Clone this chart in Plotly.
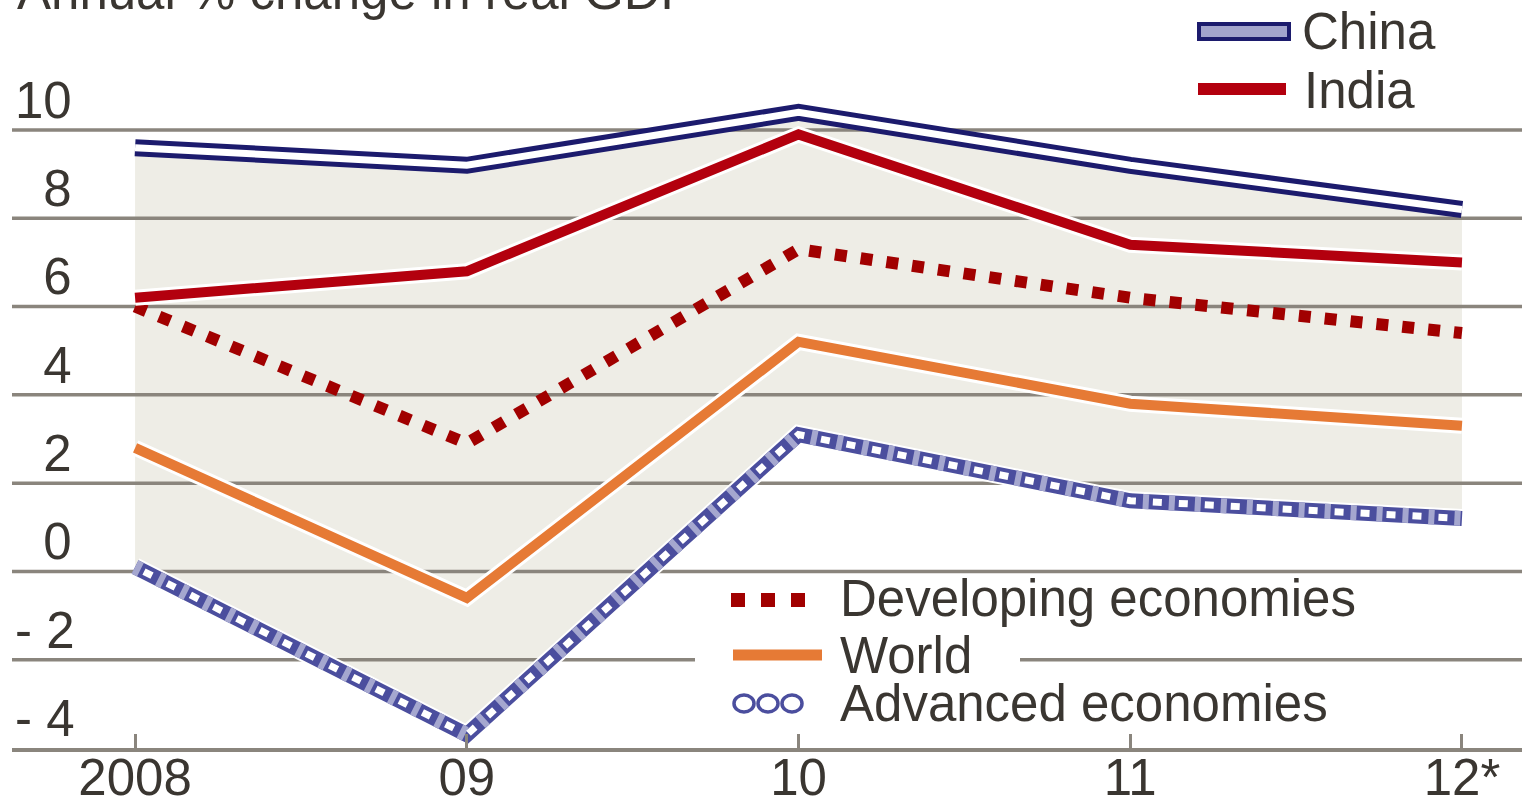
import plotly.graph_objects as go

# Annual % change in real GDP
years = [2008, 2009, 2010, 2011, 2012]
year_labels = ["2008", "09", "10", "11", "12*"]
china = [9.6, 9.2, 10.4, 9.2, 8.2]
india = [6.2, 6.8, 9.9, 7.4, 7.0]
developing = [6.0, 2.9, 7.3, 6.2, 5.4]
world = [2.8, -0.6, 5.2, 3.8, 3.3]
advanced = [0.1, -3.7, 3.1, 1.6, 1.2]

grid_values = [-2, 0, 2, 4, 6, 8, 10]
y_ticks = [-4, -2, 0, 2, 4, 6, 8, 10]
y_tick_labels = ["-\u20084", "-\u20082", "\u20070", "\u20072",
                 "\u20074", "\u20076", "\u20078", "10"]

NAVY = "#1c1b6d"
ADV = "#4b4e9e"
RED = "#b3000e"
DEV = "#a10000"
ORANGE = "#e67a35"
BAND = "#eeede6"
GRID = "#8a857d"
TEXT = "#3a3631"
FONT = "Liberation Sans, Arial, sans-serif"

W, H = 1522, 802
ML, MB = 12, 54
PW, PH = W - ML, H - MB
X0, X1 = 2007.629, 2012.181
Y0, Y1 = -4, 12.945


# page pixel -> paper helpers, only used for the hand-drawn key
def px(x):
    return (x - ML) / PW


def py(y):
    return (H - MB - y) / PH


fig = go.Figure()


def line(y, color, width, dash="solid"):
    fig.add_trace(go.Scatter(
        x=years, y=y, mode="lines",
        line=dict(color=color, width=width, dash=dash),
        showlegend=False, hoverinfo="skip",
    ))


# shaded band between advanced and china
fig.add_trace(go.Scatter(x=years, y=advanced, mode="lines", line=dict(width=0),
                         showlegend=False, hoverinfo="skip"))
fig.add_trace(go.Scatter(x=years, y=china, mode="lines", line=dict(width=0),
                         fill="tonexty", fillcolor=BAND,
                         showlegend=False, hoverinfo="skip"))

# gridlines drawn over the band
gx, gy = [], []
for g in grid_values:
    gx += [X0, X1, None]
    gy += [g, g, None]
fig.add_trace(go.Scatter(x=gx, y=gy, mode="lines", line=dict(color=GRID, width=3.5),
                         showlegend=False, hoverinfo="skip"))

# advanced: chain of rings = blue tube with white holes
line(advanced, "white", 19)
line(advanced, ADV, 15)
line(advanced, "#a5a7cf", 15, "6px,20px")
line(advanced, "white", 7, "0px,10px,9px,7px")
line(world, "white", 16)
line(world, ORANGE, 10)
line(developing, DEV, 12, "12px,14px")
line(india, "white", 16)
line(india, RED, 10)
line(china, NAVY, 17)
line(china, "white", 7)

txt = dict(family=FONT, size=51, color=TEXT)
annotations = [
    dict(text="Annual % change in real GDP", x=px(15), y=py(-9)),
    dict(text="China", x=px(1300), y=py(31)),
    dict(text="India", x=px(1302), y=py(90)),
    dict(text="Developing economies", x=px(838), y=py(598)),
    dict(text="World", x=px(838), y=py(655)),
    dict(text="Advanced economies", x=px(838), y=py(703)),
]
for a in annotations:
    a.update(xref="paper", yref="paper", xanchor="left", yanchor="middle",
             showarrow=False, font=txt)

shapes = [
    # white patch behind "World" breaking the -2 gridline
    dict(type="rect", x0=px(695), x1=px(1020), y0=py(642), y1=py(678),
         fillcolor="white", line=dict(width=0)),
    dict(type="rect", x0=px(1199), x1=px(1289), y0=py(24), y1=py(39),
         fillcolor="#a3a4cc", line=dict(color=NAVY, width=4)),
    dict(type="line", x0=px(1198), x1=px(1286), y0=py(89), y1=py(89),
         line=dict(color=RED, width=12)),
    dict(type="line", x0=px(731), x1=px(805), y0=py(600), y1=py(600),
         line=dict(color=DEV, width=14, dash="14px,16px")),
    dict(type="line", x0=px(733), x1=px(822), y0=py(655), y1=py(655),
         line=dict(color=ORANGE, width=11)),
]
for cx in [744, 768, 792]:
    shapes.append(dict(type="circle", x0=px(cx - 10), x1=px(cx + 10),
                       y0=py(695), y1=py(712), fillcolor="white",
                       line=dict(color=ADV, width=3.5)))
for s in shapes:
    s.update(xref="paper", yref="paper", layer="above")

fig.update_layout(
    width=W,
    height=H,
    template="none",
    paper_bgcolor="white",
    plot_bgcolor="white",
    margin=dict(l=ML, r=0, t=0, b=MB, pad=0),
    showlegend=False,
    annotations=annotations,
    shapes=shapes,
    xaxis=dict(
        range=[X0, X1],
        tickvals=years,
        ticktext=year_labels,
        showgrid=False,
        zeroline=False,
        showline=True,
        linecolor=GRID,
        linewidth=4,
        ticks="inside",
        ticklen=14,
        tickwidth=3,
        tickcolor=GRID,
        tickfont=txt,
        ticklabelstandoff=-18,
        automargin=False,
    ),
    yaxis=dict(
        range=[Y0, Y1],
        tickvals=y_ticks,
        ticktext=y_tick_labels,
        showgrid=False,
        zeroline=False,
        showline=False,
        ticks="",
        ticklabelposition="inside",
        ticklabelshift=-30,
        tickfont=txt,
        automargin=False,
    ),
)

# drop the default body margin so the figure fills the window exactly
fig.write_html(
    "out.html",
    config={"displayModeBar": False},
    post_script="document.body.style.margin = '0px';",
)
